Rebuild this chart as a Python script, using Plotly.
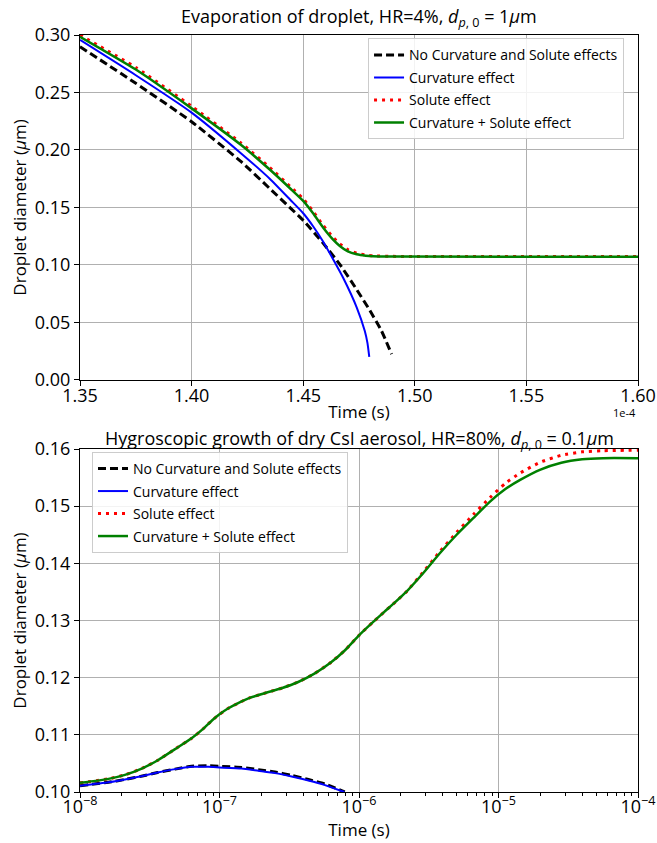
import plotly.graph_objects as go

# ---------------- Top panel: evaporation (time in units of 1e-4 s) ----------------
t_none_top = [1.350, 1.375, 1.400, 1.4222, 1.435, 1.4443, 1.450, 1.4589, 1.4664, 1.474, 1.4798, 1.4850, 1.4896]
d_none_top = [0.2898, 0.2580, 0.2246, 0.1898, 0.1665, 0.1495, 0.1388, 0.1190, 0.1005, 0.0785, 0.0607, 0.0430, 0.0225]

t_curv_top = [1.350, 1.375, 1.400, 1.4222, 1.435, 1.4443, 1.450, 1.4545, 1.4589, 1.4634, 1.4680, 1.4740, 1.4776,
              1.4788, 1.4796]
d_curv_top = [0.2957, 0.2650, 0.2325, 0.1970, 0.1750, 0.1565, 0.1450, 0.1335, 0.1205, 0.1050, 0.0885, 0.0630, 0.0425,
              0.0320, 0.0200]

t_sol_top = [1.350, 1.375, 1.400, 1.4222, 1.435, 1.4443, 1.450, 1.4545, 1.4589, 1.4634, 1.4664, 1.470, 1.474,
             1.478, 1.4813, 1.490, 1.600]
d_sol_top = [0.3000, 0.2718, 0.2380, 0.2060, 0.1848, 0.1680, 0.1575, 0.1465, 0.1345, 0.1240, 0.1183, 0.1133,
             0.1103, 0.1086, 0.1079, 0.1075, 0.1074]

t_both_top = [1.350, 1.375, 1.400, 1.4222, 1.435, 1.4443, 1.450, 1.4545, 1.4589, 1.4634, 1.4664, 1.470, 1.474,
              1.478, 1.4813, 1.490, 1.600]
d_both_top = [0.2985, 0.2700, 0.2362, 0.2043, 0.1830, 0.1663, 0.1557, 0.1447, 0.1326, 0.1220, 0.1165, 0.1118,
              0.1093, 0.1081, 0.1076, 0.1073, 0.1072]

# ---------------- Bottom panel: hygroscopic growth (time in s) ----------------
t_none_bot = [1.0e-8, 1.6e-8, 2.1e-8, 2.8e-8, 3.6e-8, 4.8e-8, 6.3e-8, 8.3e-8, 1.0e-7, 1.44e-7, 1.9e-7,
              2.5e-7, 3.29e-7, 4.34e-7, 5.7e-7, 7.9e-7]
d_none_bot = [0.1011, 0.1017, 0.1022, 0.1028, 0.1034, 0.1040, 0.1045, 0.1046, 0.1045, 0.1043, 0.1039,
              0.1035, 0.1029, 0.1022, 0.1014, 0.1000]

t_curv_bot = [1.0e-8, 1.6e-8, 2.1e-8, 2.8e-8, 3.6e-8, 4.8e-8, 6.3e-8, 8.3e-8, 1.0e-7, 1.44e-7, 1.9e-7,
              2.5e-7, 3.29e-7, 4.34e-7, 5.7e-7, 7.85e-7]
d_curv_bot = [0.1011, 0.1017, 0.1022, 0.1028, 0.1034, 0.1040, 0.1044, 0.1044, 0.1043, 0.1041, 0.1037,
              0.1033, 0.1027, 0.1020, 0.1012, 0.1000]

t_sol_bot = [1.0e-8, 1.6e-8, 2.1e-8, 2.77e-8, 3.64e-8, 4.8e-8, 6.31e-8, 7.59e-8, 8.91e-8, 1.0e-7, 1.15e-7,
             1.35e-7, 1.66e-7, 2.19e-7, 2.82e-7, 3.63e-7, 4.79e-7, 6.31e-7, 7.94e-7, 1.0e-6, 1.27e-6,
             1.67e-6, 2.2e-6, 2.89e-6, 3.81e-6, 5.01e-6, 6.59e-6, 8.69e-6, 1.12e-5, 1.43e-5, 2.0e-5,
             2.82e-5, 3.98e-5, 5.62e-5, 1.0e-4]
d_sol_bot = [0.1016, 0.1023, 0.1030, 0.1041, 0.1056, 0.1075, 0.1094, 0.1110, 0.1126, 0.1136, 0.1146,
             0.1155, 0.1165, 0.1174, 0.1182, 0.1192, 0.1207, 0.1227, 0.1248, 0.1274, 0.1298,
             0.1324, 0.1351, 0.1385, 0.1421, 0.1454, 0.1485, 0.1515, 0.1540, 0.1558, 0.1577,
             0.1589, 0.1595, 0.1597, 0.1598]

t_both_bot = [1.0e-8, 1.6e-8, 2.1e-8, 2.77e-8, 3.64e-8, 4.8e-8, 6.31e-8, 7.59e-8, 8.91e-8, 1.0e-7, 1.15e-7,
              1.35e-7, 1.66e-7, 2.19e-7, 2.82e-7, 3.63e-7, 4.79e-7, 6.31e-7, 7.94e-7, 1.0e-6, 1.27e-6,
              1.67e-6, 2.2e-6, 2.89e-6, 3.81e-6, 5.01e-6, 6.59e-6, 8.69e-6, 1.12e-5, 1.43e-5, 2.0e-5,
              2.82e-5, 3.98e-5, 5.62e-5, 1.0e-4]
d_both_bot = [0.1016, 0.1023, 0.1030, 0.1041, 0.1056, 0.1075, 0.1094, 0.1110, 0.1126, 0.1136, 0.1146,
              0.1155, 0.1165, 0.1174, 0.1182, 0.1192, 0.1207, 0.1227, 0.1248, 0.1274, 0.1298,
              0.1324, 0.1351, 0.1383, 0.1418, 0.1450, 0.1479, 0.1508, 0.1530, 0.1546, 0.1564,
              0.1576, 0.1582, 0.1584, 0.1584]

labels = ["No Curvature and Solute effects", "Curvature effect", "Solute effect", "Curvature + Solute effect"]

top_xticks = [1.35, 1.40, 1.45, 1.50, 1.55, 1.60]
bot_xticks = [1e-8, 1e-7, 1e-6, 1e-5, 1e-4]
bot_xticklabels = ["10<sup>−8</sup>", "10<sup>−7</sup>", "10<sup>−6</sup>", "10<sup>−5</sup>", "10<sup>−4</sup>"]

FONT = "Open Sans"
styles = [
    dict(color="black", width=3, dash="8px,4px"),
    dict(color="#0000ff", width=2),
    dict(color="#ff0000", width=3, dash="3px,5px"),
    dict(color="#008000", width=2.5),
]

fig = go.Figure()

top_series = [(t_none_top, d_none_top), (t_curv_top, d_curv_top), (t_sol_top, d_sol_top), (t_both_top, d_both_top)]
for i, ((tx, dy), lab, st) in enumerate(zip(top_series, labels, styles)):
    fig.add_trace(go.Scatter(x=tx, y=dy, mode="lines", name=lab, line=dict(shape="spline", smoothing=0.5, **st),
                             xaxis="x", yaxis="y", legend="legend", legendgroup=f"top{i}"))

bot_series = [(t_none_bot, d_none_bot), (t_curv_bot, d_curv_bot), (t_sol_bot, d_sol_bot), (t_both_bot, d_both_bot)]
for i, ((tx, dy), lab, st) in enumerate(zip(bot_series, labels, styles)):
    fig.add_trace(go.Scatter(x=tx, y=dy, mode="lines", name=lab, line=dict(shape="spline", smoothing=0.5, **st),
                             xaxis="x2", yaxis="y2", legend="legend2", legendgroup=f"bot{i}"))

axis_common = dict(showline=True, linecolor="black", linewidth=1, mirror=True,
                   ticks="outside", ticklen=5, tickcolor="black", tickwidth=1,
                   showgrid=True, gridcolor="#b0b0b0", gridwidth=1, zeroline=False, automargin=False,
                   tickfont=dict(size=18, family=FONT, color="black"))

minor_vals = [k * 10.0 ** e for e in range(-8, -4) for k in range(2, 10)]

legend_common = dict(bgcolor="rgba(255,255,255,0.85)", bordercolor="#cccccc", borderwidth=1,
                     font=dict(size=14, family=FONT, color="black"), xanchor="left", yanchor="top",
                     tracegroupgap=1.3, itemwidth=30)

fig.update_layout(
    width=657, height=843,
    margin=dict(l=80, r=19, t=35, b=51, autoexpand=False),
    paper_bgcolor="white", plot_bgcolor="white",
    font=dict(family=FONT, color="black"),
    showlegend=True,
    xaxis=dict(axis_common, domain=[0, 1], range=[1.35, 1.60], tickvals=top_xticks,
               tickformat=".2f", anchor="y", ticklabelstandoff=-6,
               title=dict(text="Time (s)", font=dict(size=17, family=FONT), standoff=0)),
    yaxis=dict(axis_common, domain=[0.5443, 1.0], range=[0, 0.30], dtick=0.05, tickformat=".2f", anchor="x",
               title=dict(text="Droplet diameter (<i>μ</i>m)", font=dict(size=17, family=FONT), standoff=3)),
    xaxis2=dict(axis_common, domain=[0, 1], type="log", range=[-8, -4], tickvals=bot_xticks,
                ticktext=bot_xticklabels, anchor="y2", ticklabelstandoff=-7,
                minor=dict(tickvals=minor_vals, ticks="outside", ticklen=3, tickcolor="black", showgrid=False),
                title=dict(text="Time (s)", font=dict(size=17, family=FONT), standoff=2)),
    yaxis2=dict(axis_common, domain=[0, 0.4531], range=[0.10, 0.16], dtick=0.01, tickformat=".2f", anchor="x2",
                title=dict(text="Droplet diameter (<i>μ</i>m)", font=dict(size=17, family=FONT), standoff=3)),
    legend=dict(legend_common, x=0.5162, y=0.9956),
    legend2=dict(legend_common, x=0.0215, y=0.4492),
    annotations=[
        dict(text="Evaporation of droplet, HR=4%, <i>d</i><sub><i>p</i>, 0</sub> = 1<i>μ</i>m",
             xref="paper", yref="paper", x=0.5, y=1.0225, xanchor="center", yanchor="middle",
             showarrow=False, font=dict(size=18, family=FONT)),
        dict(text="Hygroscopic growth of dry CsI aerosol, HR=80%, <i>d</i><sub><i>p</i>, 0</sub> = 0.1<i>μ</i>m",
             xref="paper", yref="paper", x=0.5, y=0.4663, xanchor="center", yanchor="middle",
             showarrow=False, font=dict(size=18, family=FONT)),
        dict(text="1e-4", xref="paper", yref="paper", x=0.9767, y=0.5007, xanchor="center", yanchor="middle",
             showarrow=False, font=dict(size=11, family=FONT)),
    ],
)

fig.write_html("out.html")
